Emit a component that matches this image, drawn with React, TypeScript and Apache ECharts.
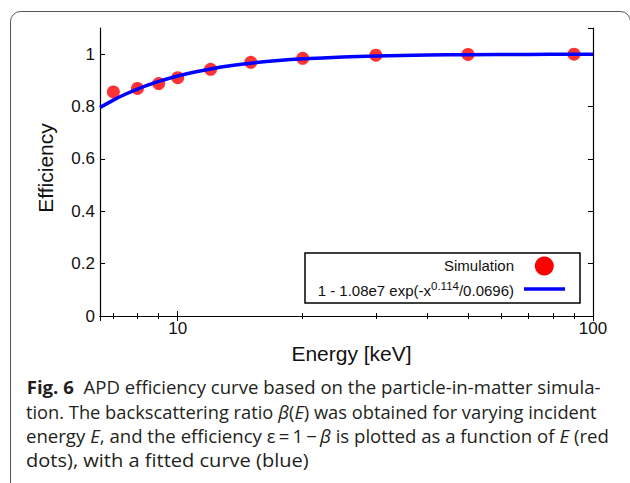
import React, { useEffect, useRef } from 'react';
import * as echarts from 'echarts';

// ---- data ----
const energies = [7, 8, 9, 10, 12, 15, 20, 30, 50, 90];
const efficiency = [0.856, 0.869, 0.888, 0.91, 0.942, 0.969, 0.984, 0.996, 0.999, 1.0];
const fitEnergies = [6.5, 7, 7.5, 8, 8.5, 9, 10, 11, 12, 13.5, 15, 17.5, 20, 25, 30, 40, 50, 70, 100];
const fitEfficiency = [0.7961, 0.8247, 0.8478, 0.8668, 0.8826, 0.8959, 0.9167, 0.9321, 0.9437, 0.9565, 0.9656, 0.9757, 0.9821, 0.9894, 0.9931, 0.9966, 0.9981, 0.9992, 0.9997];
const xTickLabels = ['10', '100'];
const yTickLabels = ['0', '0.2', '0.4', '0.6', '0.8', '1'];
const seriesNames = ['Simulation', '1 - 1.08e7 exp(-x^0.114/0.0696)'];

type Seg = [string, string?];
const captionLines: Seg[][] = [
  [['Fig. 6', 'b'], ['  APD efficiency curve based on the particle-in-matter simula-']],
  [['tion. The backscattering ratio '], ['β', 'i'], ['('], ['E', 'i'], [') was obtained for varying incident']],
  [['energy '], ['E', 'i'], [', and the efficiency ε\u2009=\u20091\u2009\u2212\u2009'], ['β', 'i'], [' is plotted as a function of '], ['E', 'i'], [' (red']],
  [['dots), with a fitted curve (blue)']],
];
const captionLeft = [26.7, 26, 26, 26];
const captionRight = [600.7, 597, 609, 309];
const captionMid = [387.3, 411.7, 436.1, 460.5];

const SANS = '"Liberation Sans", Arial, Helvetica, sans-serif';
const CAP = '"Open Sans", "Noto Sans", sans-serif';
const CAP_SIZE = 17.5;

function segFont(style?: string) {
  const st = style === 'i' ? 'italic' : 'normal';
  const wt = style === 'b' ? 'bold' : 'normal';
  return { st, wt };
}

function measureLine(segs: Seg[]): number {
  const c = document.createElement('canvas').getContext('2d');
  if (!c) return 1;
  let w = 0;
  for (const [t, s] of segs) {
    const { st, wt } = segFont(s);
    c.font = `${st} ${wt} ${CAP_SIZE}px ${CAP}`;
    w += c.measureText(t).width;
  }
  return w;
}

function richText(segs: Seg[]): string {
  return segs.map(([t, s]) => (s ? `{${s}|${t}}` : `{n|${t}}`)).join('');
}

const capRich = {
  n: { fontSize: CAP_SIZE, fontFamily: CAP, fontWeight: 'normal', fontStyle: 'normal', fill: '#231f20', color: '#231f20' },
  b: { fontSize: CAP_SIZE, fontFamily: CAP, fontWeight: 'bold', fontStyle: 'normal', fill: '#231f20', color: '#231f20' },
  i: { fontSize: CAP_SIZE, fontFamily: CAP, fontWeight: 'normal', fontStyle: 'italic', fill: '#231f20', color: '#231f20' },
};

export default function App() {
  const ref = useRef<HTMLDivElement>(null);

  useEffect(() => {
    if (!ref.current) return;
    const chart = echarts.init(ref.current, undefined, { renderer: 'svg' });

    const axisLine = { show: true, lineStyle: { color: '#000', width: 1.2 } };
    const xBase: any = {
      type: 'log',
      logBase: 10,
      min: 6.5,
      max: 100,
      axisLine,
      axisTick: { show: true, inside: true, length: 5, lineStyle: { color: '#000', width: 1 } },
      minorTick: { show: true, splitNumber: 9, length: 3, lineStyle: { color: '#000', width: 1 } },
      splitLine: { show: false },
      minorSplitLine: { show: false },
    };
    const yBase: any = {
      type: 'value',
      min: 0,
      max: 1.1,
      interval: 0.2,
      axisLine,
      axisTick: { show: true, inside: true, length: 5, lineStyle: { color: '#000', width: 1 } },
      splitLine: { show: false },
    };

    const captionGraphics = captionLines.map((segs, i) => ({
      type: 'text',
      x: captionLeft[i],
      y: captionMid[i],
      scaleX: (captionRight[i] - captionLeft[i]) / measureLine(segs),
      style: {
        text: richText(segs),
        rich: capRich,
        fontSize: CAP_SIZE,
        fontFamily: CAP,
        fill: '#231f20',
        align: 'left',
        verticalAlign: 'middle',
      },
    }));

    const option: any = {
      animation: false,
      backgroundColor: '#fff',
      grid: {
        left: 100,
        top: 28,
        width: 493,
        height: 288,
        containLabel: false,
        outerBoundsMode: 'none',
      },
      xAxis: [
        {
          ...xBase,
          position: 'bottom',
          name: 'Energy [keV]',
          nameLocation: 'middle',
          nameGap: 27,
          nameTextStyle: { fontSize: 21, fontFamily: SANS, color: '#111', padding: [0, 0, 0, 10] },
          axisLabel: {
            show: true,
            showMinLabel: false,
            fontSize: 17,
            fontFamily: SANS,
            color: '#111',
            margin: 4,
            formatter: (v: number) => (xTickLabels.includes(String(v)) ? String(v) : ''),
          },
        },
        {
          ...xBase,
          position: 'top',
          axisLabel: { show: false },
        },
      ],
      yAxis: [
        {
          ...yBase,
          position: 'left',
          name: 'Efficiency',
          nameLocation: 'middle',
          nameGap: 44,
          nameTextStyle: { fontSize: 21, fontFamily: SANS, color: '#111', padding: [0, 0, 0, 8] },
          axisLabel: {
            show: true,
            showMaxLabel: false,
            fontSize: 17,
            fontFamily: SANS,
            color: '#111',
            margin: 5,
            formatter: (v: number) => {
              const s = String(Math.round(v * 10) / 10);
              return yTickLabels.includes(s) ? s : '';
            },
          },
        },
        {
          ...yBase,
          position: 'right',
          axisLabel: { show: false },
        },
      ],
      series: [
        {
          type: 'scatter',
          name: seriesNames[0],
          xAxisIndex: 0,
          yAxisIndex: 0,
          data: energies.map((e, i) => [e, efficiency[i]]),
          symbol: 'circle',
          symbolSize: 13,
          itemStyle: { color: '#ff0000' },
          z: 2,
        },
        {
          type: 'line',
          name: seriesNames[1],
          xAxisIndex: 0,
          yAxisIndex: 0,
          data: fitEnergies.map((e, i) => [e, fitEfficiency[i]]),
          smooth: 0.4,
          showSymbol: false,
          symbol: 'none',
          lineStyle: { color: '#0000ff', width: 3.5 },
          itemStyle: { color: '#0000ff' },
          z: 3,
        },
      ],
      graphic: [
        {
          type: 'rect',
          shape: { x: 10.5, y: 11.5, width: 620, height: 490, r: 10 },
          style: { fill: 'none', stroke: '#555', lineWidth: 1 },
          silent: true,
        },
        {
          type: 'rect',
          shape: { x: 305, y: 253, width: 275, height: 50 },
          style: { fill: '#fff', stroke: '#000', lineWidth: 1.5 },
          z: 10,
        },
        {
          type: 'text',
          x: 514,
          y: 265,
          z: 11,
          style: {
            text: seriesNames[0],
            fontSize: 15,
            fontFamily: SANS,
            fill: '#111',
            align: 'right',
            verticalAlign: 'middle',
          },
        },
        {
          type: 'circle',
          shape: { cx: 544.3, cy: 266, r: 9.5 },
          style: { fill: '#ff0000' },
          z: 11,
        },
        {
          type: 'text',
          x: 514,
          y: 290,
          z: 11,
          style: {
            text: '{n|1 - 1.08e7 exp(-x}{sup|0.114}{n|/0.0696)}',
            rich: {
              n: { fontSize: 15, fontFamily: SANS, fill: '#111', color: '#111' },
              sup: { fontSize: 11.5, fontFamily: SANS, fill: '#111', color: '#111', padding: [0, 0, 8, 0] },
            },
            fontSize: 15,
            fontFamily: SANS,
            fill: '#111',
            align: 'right',
            verticalAlign: 'middle',
          },
        },
        {
          type: 'line',
          shape: { x1: 524, y1: 289, x2: 565, y2: 289 },
          style: { stroke: '#0000ff', lineWidth: 3.5 },
          z: 11,
        },
        ...captionGraphics,
      ],
    };

    chart.setOption(option);
    return () => chart.dispose();
  }, []);

  return (
    <div
      ref={ref}
      style={{ position: 'fixed', left: 0, top: 0, width: 630, height: 483, background: '#fff' }}
    />
  );
}
